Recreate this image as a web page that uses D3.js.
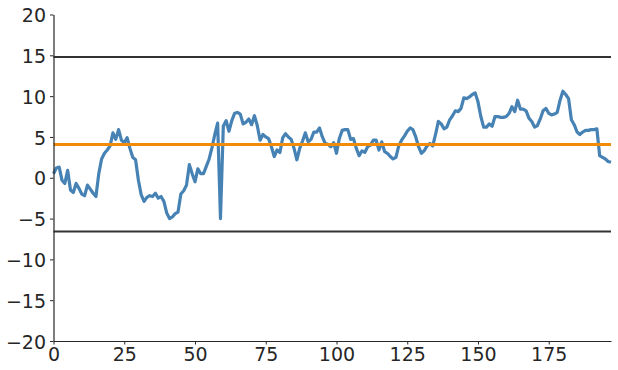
<!DOCTYPE html>
<html>
<head>
<meta charset="utf-8">
<script src="https://cdn.jsdelivr.net/npm/d3@7"></script>
<style>
  body { margin: 0; background: #fff; }
</style>
</head>
<body>
<div class="chart"></div>
<script>
// series values, one per index
const values = [
  0.5, 1.2, 1.3, -0.3, -0.7, 0.9, -1.5, -1.8, -0.7, -1.3,
  -2.0, -2.2, -0.9, -1.4, -1.9, -2.3, 0.5, 2.3, 3.0, 3.4,
  3.9, 5.5, 4.7, 5.9, 4.6, 4.3, 4.9, 3.6, 2.5, 2.2,
  -0.3, -2.1, -2.9, -2.4, -2.2, -2.3, -1.9, -2.5, -2.3, -2.9,
  -4.3, -5.0, -4.8, -4.4, -4.2, -2.0, -1.6, -0.9, 1.6, 0.5,
  -0.5, 1.1, 0.5, 0.5, 1.4, 2.3, 3.7, 5.3, 6.7, -5.0,
  6.3, 7.0, 5.7, 7.0, 7.9, 8.0, 7.8, 6.6, 6.8, 7.2,
  6.5, 7.6, 6.4, 4.6, 5.3, 5.0, 4.8, 3.8, 2.6, 3.4,
  3.1, 4.9, 5.4, 5.0, 4.7, 3.6, 2.2, 3.6, 4.5, 5.5,
  4.4, 4.7, 5.6, 5.6, 6.1, 5.0, 4.2, 4.1, 3.8, 4.3,
  3.0, 4.8, 5.8, 5.9, 5.9, 4.7, 4.8, 3.6, 2.7, 3.3,
  3.1, 3.8, 4.0, 4.6, 4.6, 3.4, 4.4, 3.2, 3.0, 2.6,
  2.3, 2.5, 3.9, 4.6, 5.1, 5.7, 6.1, 5.9, 5.0, 3.8,
  3.0, 3.3, 3.9, 4.2, 3.9, 5.3, 6.9, 6.6, 6.0, 6.2,
  7.1, 7.6, 8.2, 8.1, 8.5, 9.8, 9.7, 9.9, 10.2, 10.4,
  9.3, 7.5, 6.2, 6.2, 6.6, 6.3, 7.5, 7.5, 7.4, 7.4,
  7.5, 7.9, 8.7, 8.1, 9.5, 8.4, 8.4, 8.2, 7.3, 6.9,
  6.2, 6.4, 7.2, 8.2, 8.5, 7.9, 7.7, 7.8, 8.0, 9.5,
  10.6, 10.2, 9.7, 7.1, 6.5, 5.6, 5.3, 5.6, 5.8, 5.8,
  5.9, 5.9, 6.0, 2.7, 2.5, 2.3, 2.0, 1.9
]

// reference levels
const meanLevel = 4.06
const bandLevels = [14.8, -6.57]

const xTicks = [0, 25, 50, 75, 100, 125, 150, 175]
const yTicks = [-20, -15, -10, -5, 0, 5, 10, 15, 20]

var svgWidth = 618
var svgHeight = 370

var margin = { top: 14.5, bottom: 29, right: 7, left: 53.5 }
var width = svgWidth - margin.left - margin.right
var height = svgHeight - margin.top - margin.bottom

var svg = d3.select('.chart')
    .append('svg')
    .attr('width', svgWidth)
    .attr('height', svgHeight)

var chartGroup = svg.append('g')
    .attr('transform', `translate(${margin.left}, ${margin.top})`)

var xScale = d3.scaleLinear()
    .domain([0, values.length - 1])
    .range([0, width])

var yScale = d3.scaleLinear()
    .domain([-20, 20])
    .range([height, 0])

// black band lines
bandLevels.forEach(v => {
    chartGroup.append('line')
        .attr('x1', 0).attr('x2', width)
        .attr('y1', yScale(v)).attr('y2', yScale(v))
        .attr('stroke', '#333333')
        .attr('stroke-width', 2)
})

// the series
var line = d3.line()
    .x((d, i) => xScale(i))
    .y(d => yScale(d))

chartGroup.append('path')
    .datum(values)
    .attr('fill', 'none')
    .attr('stroke', '#4682b4')
    .attr('stroke-width', 3.2)
    .attr('stroke-linejoin', 'round')
    .attr('d', line)

// mean line on top
chartGroup.append('line')
    .attr('x1', 0).attr('x2', width)
    .attr('y1', yScale(meanLevel)).attr('y2', yScale(meanLevel))
    .attr('stroke', '#f28a0a')
    .attr('stroke-width', 3)

// axes
function styleAxis(g) {
    g.attr('font-family', null).attr('font-size', null)
    g.select('.domain').attr('stroke', '#262626').attr('stroke-width', 1.2)
    g.selectAll('.tick line').attr('stroke', '#262626')
    g.selectAll('text')
        .style('font-family', '"DejaVu Sans", sans-serif')
        .style('font-size', '19px')
        .attr('fill', '#262626')
}

chartGroup.append('g')
    .attr('transform', `translate(0, ${height})`)
    .call(d3.axisBottom(xScale).tickValues(xTicks).tickSize(3.5).tickPadding(3.5).tickSizeOuter(0))
    .call(styleAxis)
    .call(g => g.selectAll('text').attr('dy', '0.66em'))

chartGroup.append('g')
    .call(d3.axisLeft(yScale).tickValues(yTicks).tickSize(3.5).tickPadding(4).tickSizeOuter(0))
    .call(styleAxis)
    .call(g => g.selectAll('text').attr('dy', '0.38em'))
</script>
</body>
</html>
